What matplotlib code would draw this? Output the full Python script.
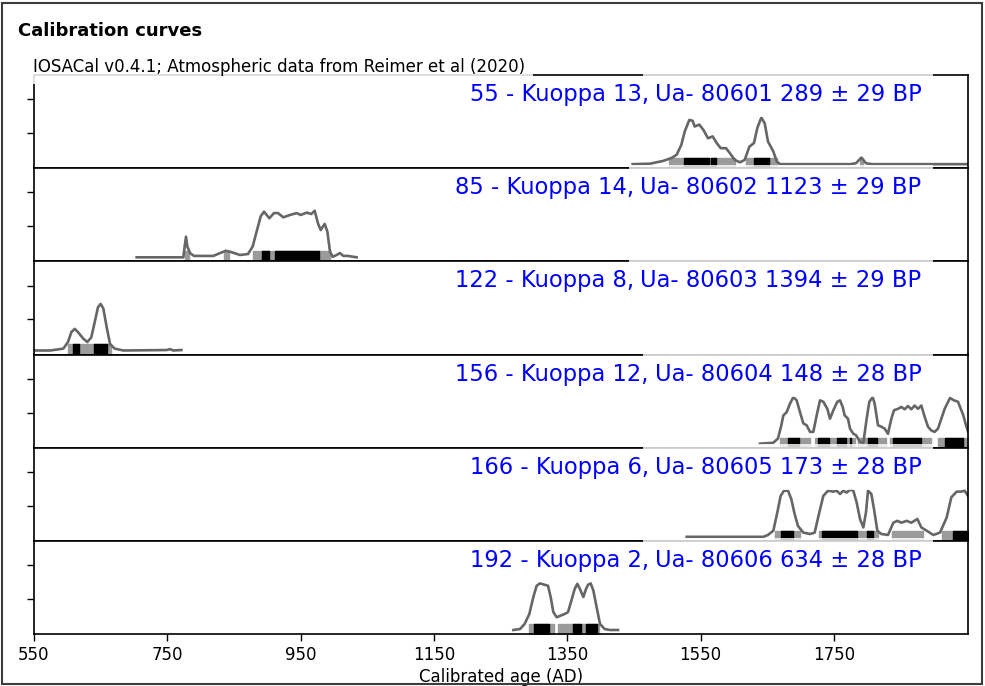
import matplotlib
matplotlib.use("Agg")
import matplotlib.pyplot as plt
from matplotlib.patches import Rectangle

# sample names and lab codes, top to bottom
names = ["55 - Kuoppa 13", "85 - Kuoppa 14", "122 - Kuoppa 8",
         "156 - Kuoppa 12", "166 - Kuoppa 6", "192 - Kuoppa 2"]
lab_ids = ["Ua- 80601", "Ua- 80602", "Ua- 80603", "Ua- 80604", "Ua- 80605", "Ua- 80606"]
bp_ages = [289, 1123, 1394, 148, 173, 634]
bp_errors = [29, 29, 29, 28, 28, 28]

# calibrated curves: calendar year (AD) and relative probability (peak ~ 1)
years_1 = [1448, 1474, 1494, 1506, 1514, 1521, 1526, 1533, 1538, 1541, 1548, 1554, 1561,
           1568, 1574, 1580, 1588, 1594, 1601, 1609, 1616, 1623, 1630, 1635, 1641, 1646,
           1651, 1659, 1664, 1669, 1774, 1783, 1791, 1798, 1807, 1951]
prob_1 = [0, 0.01, 0.07, 0.13, 0.20, 0.41, 0.69, 0.94, 0.92, 0.80, 0.84, 0.73, 0.55,
          0.59, 0.45, 0.34, 0.34, 0.23, 0.09, 0.04, 0.09, 0.37, 0.45, 0.77, 0.99, 0.87,
          0.48, 0.27, 0.06, 0, 0, 0.02, 0.14, 0.02, 0, 0]

years_2 = [704, 774, 776, 778, 780, 784, 790, 819, 829, 838, 846, 859, 871, 878, 884,
           890, 895, 903, 910, 916, 924, 934, 944, 950, 959, 966, 971, 976, 980, 986,
           990, 994, 998, 1004, 1009, 1014, 1021, 1034]
prob_2 = [0, 0, 0.23, 0.44, 0.23, 0.09, 0.03, 0.03, 0.09, 0.14, 0.11, 0.05, 0.07, 0.23,
          0.55, 0.87, 0.97, 0.83, 0.94, 0.94, 0.85, 0.90, 0.94, 0.90, 0.95, 0.92, 0.99,
          0.72, 0.58, 0.71, 0.55, 0.12, 0.01, 0.05, 0.09, 0.03, 0.03, 0]

years_3 = [549, 574, 594, 601, 606, 611, 616, 624, 630, 636, 641, 646, 650, 654, 659,
           664, 671, 684, 749, 754, 759, 771]
prob_3 = [0, 0, 0.04, 0.18, 0.39, 0.46, 0.39, 0.25, 0.18, 0.28, 0.60, 0.92, 0.99, 0.89,
          0.50, 0.14, 0.04, 0, 0.01, 0.03, 0, 0.01]

years_4 = [1639, 1659, 1666, 1671, 1674, 1679, 1684, 1689, 1694, 1699, 1704, 1709, 1714,
           1719, 1724, 1729, 1734, 1740, 1744, 1749, 1755, 1759, 1763, 1766, 1771, 1774,
           1779, 1783, 1789, 1794, 1799, 1803, 1808, 1811, 1816, 1821, 1826, 1831, 1836,
           1840, 1846, 1851, 1856, 1861, 1866, 1871, 1876, 1881, 1886, 1891, 1896, 1901,
           1906, 1911, 1916, 1924, 1930, 1936, 1944, 1948, 1951]
prob_4 = [0, 0.02, 0.11, 0.39, 0.60, 0.67, 0.85, 0.99, 0.92, 0.67, 0.43, 0.39, 0.25,
          0.25, 0.60, 0.92, 0.89, 0.74, 0.53, 0.71, 0.89, 0.92, 0.78, 0.60, 0.53, 0.32,
          0.21, 0.18, 0.04, 0.02, 0.53, 0.89, 0.99, 0.85, 0.39, 0.36, 0.32, 0.21, 0.53,
          0.71, 0.74, 0.78, 0.73, 0.80, 0.73, 0.81, 0.74, 0.81, 0.57, 0.36, 0.28, 0.25,
          0.32, 0.53, 0.74, 0.97, 0.92, 0.89, 0.60, 0.39, 0.26]

years_5 = [1529, 1644, 1651, 1659, 1665, 1670, 1675, 1681, 1686, 1691, 1696, 1704, 1714,
           1721, 1728, 1734, 1741, 1749, 1754, 1759, 1764, 1769, 1774, 1779, 1784, 1789,
           1794, 1798, 1801, 1806, 1810, 1815, 1821, 1831, 1839, 1845, 1851, 1859, 1866,
           1875, 1881, 1889, 1899, 1909, 1919, 1926, 1934, 1941, 1946, 1951]
prob_5 = [0, 0, 0.04, 0.13, 0.52, 0.87, 0.98, 0.98, 0.80, 0.48, 0.23, 0.09, 0.06,
          0.09, 0.52, 0.87, 0.98, 0.96, 0.98, 0.91, 0.98, 0.94, 1.00, 0.98, 0.73, 0.38,
          0.20, 0.52, 0.98, 0.91, 0.59, 0.13, 0.06, 0.04, 0.30, 0.34, 0.30, 0.34, 0.30,
          0.38, 0.20, 0.13, 0.04, 0.09, 0.41, 0.84, 0.96, 0.96, 0.98, 0.87]

years_6 = [1269, 1279, 1286, 1293, 1299, 1304, 1309, 1316, 1321, 1325, 1329, 1334, 1339,
           1346, 1351, 1356, 1361, 1365, 1369, 1374, 1378, 1381, 1385, 1389, 1394, 1399,
           1406, 1414, 1426]
prob_6 = [0, 0.02, 0.13, 0.34, 0.70, 0.94, 0.99, 0.96, 0.94, 0.70, 0.38, 0.27, 0.30,
          0.34, 0.38, 0.62, 0.87, 0.98, 0.87, 0.70, 0.87, 0.96, 0.99, 0.84, 0.48, 0.13,
          0.02, 0, 0]

# HPD ranges: 95.4% (grey) and 68.2% (black)
hpd95 = [
    [(1503, 1601), (1618, 1664), (1789, 1794)],
    [(776, 783), (835, 842), (878, 994)],
    [(601, 666)],
    [(1669, 1714), (1721, 1781), (1786, 1828), (1834, 1896), (1906, 1951)],
    [(1661, 1699), (1727, 1816), (1837, 1884), (1912, 1951)],
    [(1293, 1330), (1336, 1398)],
]
hpd68 = [
    [(1525, 1563), (1565, 1573), (1630, 1653)],
    [(892, 903), (912, 977)],
    [(609, 617), (640, 660)],
    [(1681, 1698), (1726, 1743), (1754, 1768), (1774, 1776), (1801, 1814), (1839, 1881), (1916, 1944)],
    [(1670, 1689), (1732, 1784), (1799, 1809), (1929, 1951)],
    [(1300, 1323), (1358, 1370), (1378, 1395)],
]

years = [years_1, years_2, years_3, years_4, years_5, years_6]
probs = [prob_1, prob_2, prob_3, prob_4, prob_5, prob_6]
ytick_vals = [[0.66, 1.38]] * 6
xticks = [550, 750, 950, 1150, 1350, 1550, 1750]

W, H = 985, 686
fig = plt.figure(figsize=(W / 100, H / 100), dpi=100)
axes = fig.subplots(6, 1, sharex=True)
fig.subplots_adjust(left=34 / W, right=968 / W, top=1 - 75 / H, bottom=1 - 634 / H, hspace=0)

for i, ax in enumerate(axes):
    for a, b in hpd95[i]:
        ax.broken_barh([(a, b - a)], (-0.085, 0.215), color="#9b9b9b", zorder=1)
    for a, b in hpd68[i]:
        ax.broken_barh([(a, b - a)], (-0.085, 0.215), color="black", zorder=1.1)
    ax.plot(years[i], probs[i], color="#666666", lw=1.9, zorder=2)
    ax.set_ylim(-0.085, 1.894)
    ax.set_yticks(ytick_vals[i])
    ax.set_yticklabels([])
    for sp in ax.spines.values():
        sp.set_linewidth(1.2)
    ax.tick_params(axis="y", left=True, right=False, length=5, width=1)
    ax.tick_params(axis="x", bottom=(i == 5), length=5, width=1, labelsize=12)

    label = f"{lab_ids[i]} {bp_ages[i]} \u00b1 {bp_errors[i]} BP"
    t = ax.text(0.95, 0.72, label, transform=ax.transAxes, ha="right", va="baseline",
                color="blue", fontsize=16.3, zorder=5,
                bbox=dict(boxstyle="square,pad=0.5", fc="white", ec="none", alpha=0.8))
    ax.annotate(names[i] + ",", xy=(0, 0), xycoords=t, xytext=(-4, 0),
                textcoords="offset points", ha="right", va="bottom",
                color="blue", fontsize=16.3, zorder=5)

axes[-1].set_xlim(550, 1951)
axes[-1].set_xticks(xticks)
axes[-1].set_xlabel("Calibrated age (AD)", fontsize=12, labelpad=3)

fig.text(33 / W, 1 - 67 / H, "IOSACal v0.4.1; Atmospheric data from Reimer et al (2020)",
         ha="left", va="center", fontsize=12, zorder=10,
         bbox=dict(boxstyle="square,pad=0.45", fc="white", ec="none", alpha=0.85))
fig.text(18 / W, 1 - 31 / H, "Calibration curves", ha="left", va="center",
         fontsize=13, fontweight="bold")
fig.patches.append(Rectangle((2 / W, 2 / H), 1 - 5 / W, 1 - 5 / H, transform=fig.transFigure,
                             fill=False, edgecolor="#3c3c3c", lw=1.5))

fig.savefig("out.png", dpi=100)
